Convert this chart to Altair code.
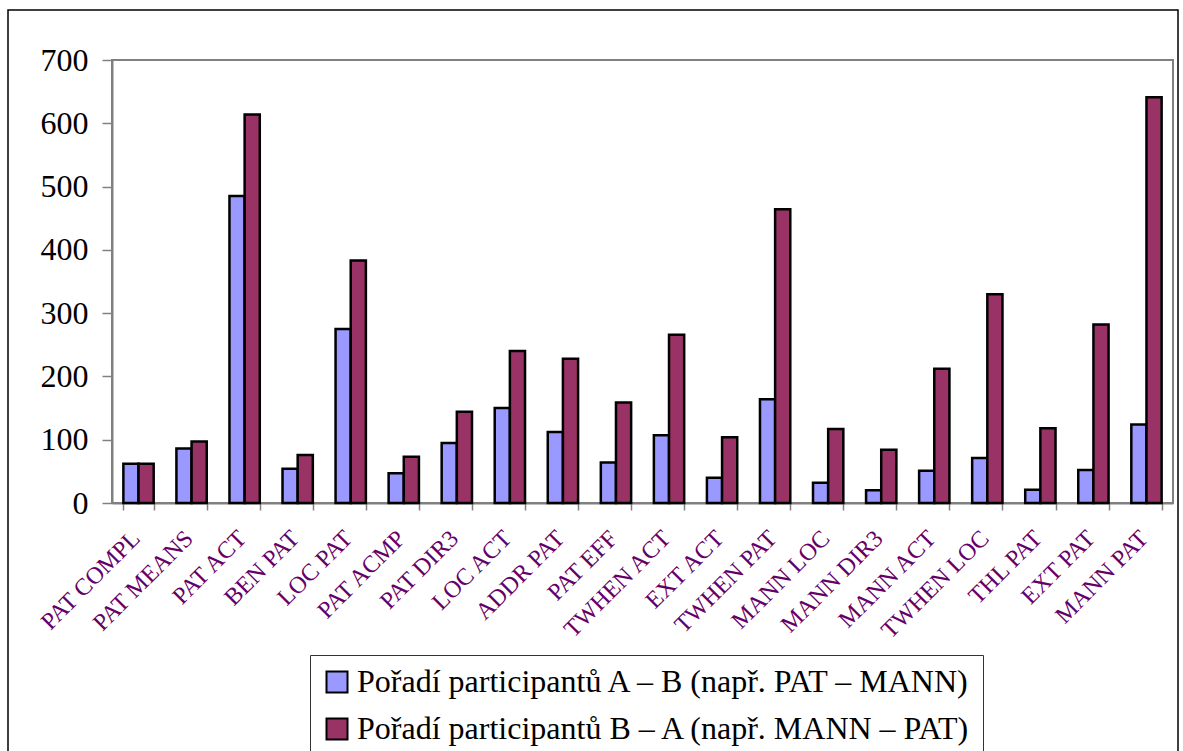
import altair as alt
import pandas as pd

# Category labels along the x axis, in display order
categories = [
    "PAT COMPL", "PAT MEANS", "PAT ACT", "BEN PAT", "LOC PAT", "PAT ACMP",
    "PAT DIR3", "LOC ACT", "ADDR PAT", "PAT EFF", "TWHEN ACT", "EXT ACT",
    "TWHEN PAT", "MANN LOC", "MANN DIR3", "MANN ACT", "TWHEN LOC", "THL PAT",
    "EXT PAT", "MANN PAT",
]

# Counts for each participant order
order_ab = [62, 86, 485, 54, 275, 47, 95, 150, 112, 64, 107, 40, 164, 32, 20, 51, 71, 21, 52, 124]
order_ba = [62, 97, 614, 76, 383, 73, 144, 240, 228, 159, 266, 104, 464, 117, 84, 212, 330, 118, 282, 641]

series_names = [
    "Pořadí participantů A – B (např. PAT – MANN)",
    "Pořadí participantů B – A (např. MANN – PAT)",
]
series_colors = ["#9999FF", "#993366"]

y_ticks = [0, 100, 200, 300, 400, 500, 600, 700]

rows = []
for cat, a, b in zip(categories, order_ab, order_ba):
    rows.append({"category": cat, "series": series_names[0], "value": a})
    rows.append({"category": cat, "series": series_names[1], "value": b})
df = pd.DataFrame(rows)

FONT = "Liberation Serif"

bars = alt.Chart(df).mark_bar(stroke="black", strokeWidth=2.5).encode(
    x=alt.X(
        "category:N",
        sort=categories,
        scale=alt.Scale(paddingInner=0.4286, paddingOuter=0.2143),
        axis=alt.Axis(
            title=None,
            labelAngle=315,
            labelAlign="right",
            labelBaseline="top",
            labelColor="#660066",
            labelFont=FONT,
            labelFontSize=24,
            labelPadding=16,
            labelOffset=-11,
            tickBand="extent",
            tickSize=7,
            tickColor="#808080",
            tickWidth=1.5,
            domainColor="#808080",
            domainWidth=2,
        ),
    ),
    xOffset=alt.XOffset("series:N", sort=series_names),
    y=alt.Y(
        "value:Q",
        scale=alt.Scale(domain=[0, 700], nice=False),
        axis=alt.Axis(
            title=None,
            values=y_ticks,
            grid=False,
            labelFont=FONT,
            labelFontSize=32,
            labelColor="black",
            labelPadding=14,
            tickSize=10,
            tickColor="#808080",
            tickWidth=1.5,
            domainColor="#808080",
            domainWidth=2,
        ),
    ),
    color=alt.Color(
        "series:N",
        sort=series_names,
        scale=alt.Scale(domain=series_names, range=series_colors),
        legend=alt.Legend(
            title=None,
            orient="none",
            legendX=198,
            legendY=595,
            direction="vertical",
            labelFont=FONT,
            labelFontSize=32,
            labelColor="black",
            labelLimit=1000,
            labelOffset=4,
            symbolType="square",
            symbolSize=441,
            symbolStrokeColor="black",
            symbolStrokeWidth=2,
            rowPadding=15,
            padding=11,
            strokeColor="#333333",
            fillColor="white",
        ),
    ),
)

# Thin black frame around the whole figure
frame = alt.Chart(pd.DataFrame({"k": [0]})).mark_rect(
    fillOpacity=0, stroke="black", strokeWidth=1.5
).encode(
    x=alt.value(-104), x2=alt.value(1066), y=alt.value(-50), y2=alt.value(720)
)

chart = alt.layer(frame, bars).properties(
    width=1061,
    height=443,
    autosize=alt.AutoSizeParams(type="none"),
    padding={"left": 112, "top": 60, "right": 10, "bottom": 248},
    background="white",
).configure_view(stroke="#808080", strokeWidth=2)

chart.save("out.html", embed_options={"renderer": "svg", "actions": False})
